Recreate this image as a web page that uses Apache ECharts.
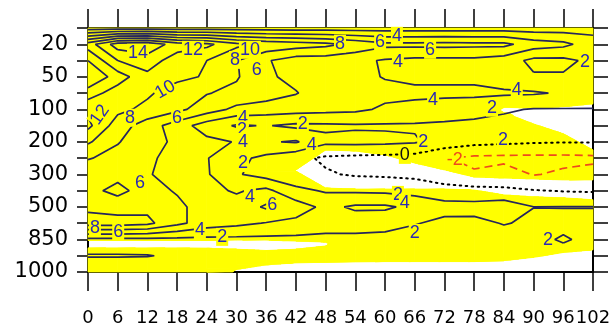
<!DOCTYPE html>
<html>
<head>
<meta charset="utf-8">
<script src="https://cdn.jsdelivr.net/npm/echarts@6/dist/echarts.min.js"></script>
<style>
  html, body { margin: 0; padding: 0; background: #ffffff; }
  #chart { width: 610px; height: 329px; }
</style>
</head>
<body>
<div id="chart"></div>
<script>
// Forecast hours along x, pressure levels (hPa) along y (level r sits at y = r / 2)
const hours = [0, 6, 12, 18, 24, 30, 36, 42, 48, 54, 60, 66, 72, 78, 84, 90, 96, 102];
const levels = ['1000', '925', '850', '700', '500', '400', '300', '250', '200', '150', '100', '70', '50', '30', '20', '10'];
const tickLevels = ['1000', '850', '500', '300', '200', '100', '50', '20'];

// Field values per pressure level, one entry per forecast hour
const z1000 = [1.5, 1.5, 1.5, 1.4, 1.3, 1.2, 1.1, 1.0, 1.0, 1.0, 1.0, 1.0, 1.0, 1.0, 1.0, 1.0, 1.0, 1.0];
const z925  = [2.05, 2.05, 2.03, 1.9, 1.5, 1.3, 1.2, 1.2, 1.2, 1.2, 1.2, 1.2, 1.2, 1.2, 1.2, 1.2, 1.3, 1.2];
const z850  = [1.5, 1.5, 1.5, 1.5, 1.5, 1.5, 1.5, 1.5, 1.4, 1.4, 1.3, 1.2, 1.2, 1.3, 1.2, 1.5, 2.2, 1.5];
const z700  = [9, 9, 8.5, 6.5, 5, 4.5, 3.9, 3.5, 3, 3, 2.8, 2.1, 1.6, 1.5, 2.1, 1.7, 1.5, 1.5];
const z500  = [7.5, 7, 7.5, 6.5, 5, 4.8, 6.3, 5, 3.5, 4.3, 4.3, 3.5, 2.6, 2.7, 3.2, 2.02, 2.05, 2.05];
const z400  = [6.5, 5.5, 6.8, 5.8, 4.5, 3.8, 4.5, 2.5, 1.8, 1.7, 1.6, 1.3, 1.0, 0.6, 0.3, 0.1, -0.1, -0.2];
const z300  = [7, 6.5, 6.1, 5.5, 4.2, 2.2, 1.2, 0.6, 0.2, -0.2, -0.3, -0.5, -1.5, -1.8, -1.1, -2.1, -1.7, -1.3];
const z250  = [8.1, 7.5, 6.5, 5, 4.1, 2.5, 1.5, 0.5, -0.3, -0.5, -0.6, -0.8, -1.9, -2.4, -2.5, -2.5, -2.5, -2.4];
const z200  = [10.3, 8.1, 7, 5.5, 4.5, 3.9, 3.8, 4.2, 2.4, 2.5, 2.4, 2.2, 1.2, 0.6, 0.4, 0.2, 0.1, 0.1];
const z150  = [12.5, 9, 7, 5, 3, 1.8, 2.1, 1.6, 1.7, 1.8, 1.8, 1.8, 1.7, 1.6, 1.5, 1.4, 1.3, 1.3];
const z100  = [11.5, 10.5, 9.5, 8.5, 7, 5.5, 5, 4.8, 4.6, 4.4, 3.7, 3.3, 2.9, 2.6, 2.2, 1.9, 1.9, 1.9];
const z70   = [9, 11, 10.3, 9, 8.1, 7.5, 7, 6.1, 5, 4.8, 4.5, 4.5, 4.5, 4.5, 4.3, 4.2, 3.8, 3.5];
const z50   = [6, 9, 11.5, 10.5, 9.8, 8.2, 6.3, 5.5, 5, 4.5, 3.9, 3.5, 3.5, 3.5, 3, 2.2, 2.2, 3];
const z30   = [8, 12, 13, 11, 10, 8.1, 6.2, 5, 5, 4.5, 3.8, 3.5, 3.5, 3.5, 3, 1.5, 1.5, 2.5];
const z20   = [11, 15, 15.5, 13, 12.5, 10.5, 9.5, 9, 8.5, 7.5, 6.5, 6.5, 6.6, 6.5, 6.5, 5, 4.5, 3];
const z10   = [1, 1, 1, 1, 1, 1, 1, 1, 1, 1, 1, 1, 1, 1, 1, 1, 1, 1.2];
const field = [z1000, z925, z850, z700, z500, z400, z300, z250, z200, z150, z100, z70, z50, z30, z20, z10];

const contourLevels = [-2, 0, 2, 4, 6, 8, 10, 12, 14];

// Unshaded (white) ranges on the level axis, one list per forecast hour
const unshaded = [
  [[0.74, 0.97]],
  [[0.74, 0.97]],
  [[0.74, 0.97]],
  [[0.74, 0.97]],
  [[0.73, 0.97]],
  [[-1, 0.08], [0.70, 0.98]],
  [[-1, 0.22], [0.66, 0.98]],
  [[-1, 0.28], [0.70, 0.95], [3.10, 3.14]],
  [[-1, 0.30], [0.80, 0.92], [2.58, 3.75]],
  [[-1, 0.31], [2.55, 3.72]],
  [[-1, 0.32], [2.55, 3.60]],
  [[-1, 0.32], [2.55, 3.35]],
  [[-1, 0.32], [2.55, 3.14]],
  [[-1, 0.32], [2.52, 2.92]],
  [[-1, 0.35], [2.37, 2.89], [4.90, 5.06]],
  [[-1, 0.45], [2.31, 2.86], [4.55, 5.04]],
  [[-1, 0.60], [2.28, 2.83], [4.25, 5.08]],
  [[-1, 0.68], [2.22, 2.83], [3.75, 5.17]]
];

// Contour value labels: [hour, level position, text, rotation]
const contourLabels = [
  [10.1, 6.74, '14', 0], [21.2, 6.83, '12', 0], [32.7, 6.83, '10', 0], [29.7, 6.52, '8', 0],
  [34.1, 6.22, '6', 0], [15.6, 5.60, '10', 30], [2.4, 4.83, '12', 55], [8.5, 4.74, '8', 0],
  [18.0, 4.74, '6', 0], [31.3, 4.74, '4', 0], [31.1, 4.37, '2', 0], [31.3, 4.00, '4', 0],
  [43.4, 4.55, '2', 0], [45.2, 3.90, '4', 0], [50.9, 7.02, '8', 0], [59.0, 7.08, '6', 0],
  [62.4, 7.26, '4', 0], [69.1, 6.83, '6', 0], [62.6, 6.46, '4', 0], [100.4, 6.46, '2', 0],
  [69.7, 5.29, '4', 0], [86.6, 5.60, '4', 0], [81.6, 5.05, '2', 0], [67.7, 4.00, '2', 0],
  [83.8, 4.06, '2', 0], [64.0, 3.60, '0', 0], [74.1, 3.45, '-2', 0], [31.3, 3.35, '2', 0],
  [10.5, 2.74, '6', 0], [32.7, 2.31, '4', 0], [37.2, 2.06, '6', 0], [62.6, 2.37, '2', 0],
  [64.0, 2.12, '4', 0], [1.4, 1.35, '8', 0], [6.1, 1.23, '6', 0], [22.6, 1.29, '4', 0],
  [27.1, 1.08, '2', 0], [66.0, 1.20, '2', 0], [92.9, 0.98, '2', 0]
];

const YELLOW = '#ffff00';
const LINE_NAVY = '#26265c';
const LABEL_BLUE = '#2a2ab4';
const NEG_RED = '#ee4a1c';
const FONT = "'Liberation Sans', Arial, Helvetica, sans-serif";
const AXIS_FONT = "'DejaVu Sans', 'Liberation Sans', sans-serif";

// ---- contour tracing (marching squares on the hour x level grid) ----
function traceLevel(L) {
  const nx = hours.length, ny = field.length;
  const pts = {}, segs = [];
  const up = (j, i) => field[j][i] >= L;
  function edge(key, i0, j0, i1, j1) {
    if (!pts[key]) {
      const v0 = field[j0][i0], v1 = field[j1][i1];
      const t = (L - v0) / (v1 - v0);
      pts[key] = [hours[i0] + t * (hours[i1] - hours[i0]), (j0 + t * (j1 - j0)) / 2];
    }
    return key;
  }
  for (let j = 0; j < ny - 1; j++) {
    for (let i = 0; i < nx - 1; i++) {
      const a = up(j, i), b = up(j, i + 1), c = up(j + 1, i + 1), d = up(j + 1, i);
      const list = [];
      let B, R, T, Lf;
      if (a !== b) { B = edge('h' + i + '_' + j, i, j, i + 1, j); list.push(B); }
      if (b !== c) { R = edge('v' + (i + 1) + '_' + j, i + 1, j, i + 1, j + 1); list.push(R); }
      if (c !== d) { T = edge('h' + i + '_' + (j + 1), i, j + 1, i + 1, j + 1); list.push(T); }
      if (d !== a) { Lf = edge('v' + i + '_' + j, i, j, i, j + 1); list.push(Lf); }
      if (list.length === 2) segs.push(list);
      else if (list.length === 4) {
        const centre = (field[j][i] + field[j][i + 1] + field[j + 1][i + 1] + field[j + 1][i]) / 4 >= L;
        if (centre === a) { segs.push([B, R]); segs.push([T, Lf]); }
        else { segs.push([Lf, B]); segs.push([R, T]); }
      }
    }
  }
  const byKey = {};
  segs.forEach((s, k) => s.forEach(key => { (byKey[key] = byKey[key] || []).push(k); }));
  const used = new Array(segs.length).fill(false);
  const lines = [];
  for (let k = 0; k < segs.length; k++) {
    if (used[k]) continue;
    used[k] = true;
    const chain = [segs[k][0], segs[k][1]];
    let cur = segs[k][1];
    for (;;) {
      const n = (byKey[cur] || []).find(m => !used[m]);
      if (n === undefined) break;
      used[n] = true;
      cur = segs[n][0] === cur ? segs[n][1] : segs[n][0];
      chain.push(cur);
    }
    cur = segs[k][0];
    for (;;) {
      const n = (byKey[cur] || []).find(m => !used[m]);
      if (n === undefined) break;
      used[n] = true;
      cur = segs[n][0] === cur ? segs[n][1] : segs[n][0];
      chain.unshift(cur);
    }
    lines.push(chain.map(key => pts[key]));
  }
  return lines;
}

// ---- shading: signed distance to the unshaded ranges, positive = shaded ----
function shadeAt(ci, y) {
  let inside = null, best = Infinity;
  for (const [a, b] of unshaded[ci]) {
    if (y >= a && y <= b) inside = inside === null ? Math.min(y - a, b - y) : Math.max(inside, Math.min(y - a, b - y));
    else best = Math.min(best, Math.abs(y - a), Math.abs(y - b));
  }
  if (inside !== null) return -inside;
  return Math.min(best, 0.5);
}
function clipPositive(P, V) {
  const out = [];
  for (let k = 0; k < P.length; k++) {
    const p = P[k], q = P[(k + 1) % P.length], vp = V[k], vq = V[(k + 1) % P.length];
    if (vp >= 0) out.push(p);
    if ((vp >= 0) !== (vq >= 0)) {
      const t = vp / (vp - vq);
      out.push([p[0] + t * (q[0] - p[0]), p[1] + t * (q[1] - p[1])]);
    }
  }
  return out;
}
function buildShadePolygons() {
  const step = 0.025, nY = Math.round(7.5 / step);
  const ys = [];
  for (let r = 0; r <= nY; r++) ys.push(r * step);
  const S = hours.map((h, ci) => ys.map(y => shadeAt(ci, y)));
  const polys = [];
  for (let i = 0; i < hours.length - 1; i++) {
    const x0 = hours[i], x1 = hours[i + 1];
    let runStart = null;
    for (let r = 0; r < nY; r++) {
      const v = [S[i][r], S[i + 1][r], S[i + 1][r + 1], S[i][r + 1]];
      const full = v.every(a => a >= 0);
      if (full) { if (runStart === null) runStart = ys[r]; continue; }
      if (runStart !== null) { polys.push([[x0, runStart], [x1, runStart], [x1, ys[r]], [x0, ys[r]]]); runStart = null; }
      const p = [[x0, ys[r]], [x1, ys[r]], [x1, ys[r + 1]], [x0, ys[r + 1]]];
      const t1 = clipPositive([p[0], p[1], p[2]], [v[0], v[1], v[2]]);
      const t2 = clipPositive([p[0], p[2], p[3]], [v[0], v[2], v[3]]);
      if (t1.length >= 3) polys.push(t1);
      if (t2.length >= 3) polys.push(t2);
    }
    if (runStart !== null) polys.push([[x0, runStart], [x1, runStart], [x1, 7.5], [x0, 7.5]]);
  }
  return polys;
}
function shadeAtPoint(x, y) {
  let i = 0;
  while (i < hours.length - 2 && x > hours[i + 1]) i++;
  const t = (x - hours[i]) / (hours[i + 1] - hours[i]);
  return (1 - t) * shadeAt(i, y) + t * shadeAt(i + 1, y);
}

const shadePolys = buildShadePolygons();

const series = [{
  type: 'custom',
  coordinateSystem: 'cartesian2d',
  silent: true,
  z: 1,
  data: [[0, 0]],
  renderItem: (params, api) => ({
    type: 'group',
    children: shadePolys.map(poly => ({
      type: 'polygon',
      shape: { points: poly.map(p => api.coord(p)) },
      style: { fill: YELLOW, stroke: YELLOW, lineWidth: 0.8 }
    }))
  })
}];

contourLevels.forEach(L => {
  const style = L < 0
    ? { color: NEG_RED, width: 1.7, type: [8, 5], opacity: 1 }
    : L === 0
      ? { color: '#000000', width: 2, type: [1.5, 4.5], cap: 'round', opacity: 1 }
      : { color: LINE_NAVY, width: 1.7, type: 'solid', opacity: 1 };
  traceLevel(L).forEach(line => {
    series.push({
      type: 'line',
      data: line,
      showSymbol: false,
      symbol: 'none',
      silent: true,
      z: 3,
      lineStyle: style
    });
  });
});

series.push({
  type: 'scatter',
  symbolSize: 0,
  silent: true,
  z: 5,
  itemStyle: { opacity: 1 },
  data: contourLabels.map(([x, y, text, rot]) => ({
    value: [x, y],
    label: {
      show: true,
      position: 'inside',
      formatter: text,
      rotate: rot,
      fontSize: 18,
      fontFamily: FONT,
      opacity: 1,
      color: text === '0' ? '#111111' : (text.charAt(0) === '-' ? NEG_RED : LABEL_BLUE),
      backgroundColor: shadeAtPoint(x, y) >= 0 ? YELLOW : '#ffffff',
      padding: [0, 1]
    }
  }))
});

const chart = echarts.init(document.getElementById('chart'), null, { renderer: 'canvas' });
const frameLine = { show: true, onZero: false, lineStyle: { color: '#000000', width: 2 } };
chart.setOption({
  animation: false,
  backgroundColor: '#ffffff',
  grid: { left: 88, right: 17, top: 28, bottom: 57, containLabel: false, outerBoundsMode: 'none' },
  xAxis: [
    {
      type: 'value', position: 'bottom', min: 0, max: 102, interval: 6,
      axisLine: frameLine,
      axisTick: { show: true, inside: false, length: 19, lineStyle: { color: '#000', width: 1.5 } },
      axisLabel: {
        show: true, fontSize: 18, fontFamily: AXIS_FONT, color: '#000', margin: 37,
        hideOverlap: false, showMinLabel: true, showMaxLabel: true
      },
      splitLine: { show: false }
    },
    {
      type: 'value', position: 'top', min: 0, max: 102, interval: 6,
      axisLine: frameLine,
      axisTick: { show: true, inside: false, length: 19, lineStyle: { color: '#000', width: 1.5 } },
      axisLabel: { show: false },
      splitLine: { show: false }
    }
  ],
  yAxis: [
    {
      type: 'value', position: 'left', min: 0, max: 7.5, interval: 0.5,
      axisLine: frameLine,
      axisTick: { show: true, inside: false, length: 11, lineStyle: { color: '#000', width: 1.5 } },
      axisLabel: {
        show: true, fontSize: 21, fontFamily: AXIS_FONT, color: '#000', margin: 20,
        showMinLabel: true, showMaxLabel: true,
        formatter: v => {
          const k = Math.round(v * 2);
          return k % 2 === 0 && tickLevels[k / 2] !== undefined ? tickLevels[k / 2] : '';
        }
      },
      splitLine: { show: false }
    },
    {
      type: 'value', position: 'right', min: 0, max: 7.5, interval: 0.5,
      axisLine: frameLine,
      axisTick: { show: true, inside: false, length: 15, lineStyle: { color: '#000', width: 1.5 } },
      axisLabel: { show: false },
      splitLine: { show: false }
    }
  ],
  series: series
});
</script>
</body>
</html>
